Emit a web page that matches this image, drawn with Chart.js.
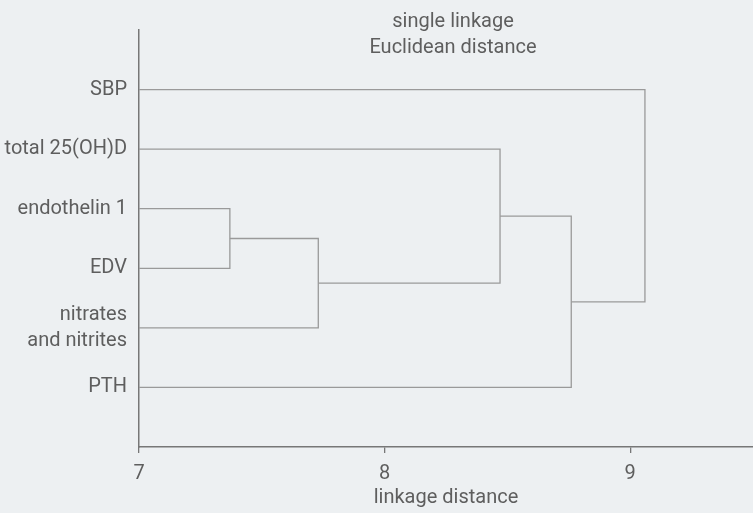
<!DOCTYPE html>
<html>
<head>
<meta charset="utf-8">
<script src="https://cdn.jsdelivr.net/npm/chart.js@4/dist/chart.umd.min.js"></script>
<style>
  html, body { margin: 0; padding: 0; background: #edf0f2; }
  #wrap { width: 753px; height: 513px; }
</style>
</head>
<body>
<div id="wrap"><canvas id="chart" width="753" height="513"></canvas></div>
<script>
// leaves of the dendrogram, top to bottom
const leafLabels = ['SBP', 'total 25(OH)D', 'endothelin 1', 'EDV', ['nitrates', 'and nitrites'], 'PTH'];

// merges: node ids 0..5 are leaves, merge k makes node 6+k
const mergeLeft = [2, 6, 1, 8, 0];
const mergeRight = [3, 4, 7, 5, 9];
const mergeDistance = [7.37, 7.73, 8.47, 8.76, 9.06];

const xTickValues = [7, 8, 9];
const titleLines = ['single linkage', 'Euclidean distance'];
const xAxisTitle = 'linkage distance';

const FONT = "Roboto, 'Liberation Sans', sans-serif";
const FONT_SIZE = 20;
const TEXT_COLOR = '#5e5e5e';
const LINE_COLOR = '#9a9a9a';
const AXIS_COLOR = '#777777';
const X_MIN = 7;

// node height (distance) and row position
const nodeX = [];
const nodeY = [];
leafLabels.forEach((l, i) => { nodeX.push(X_MIN); nodeY.push(i + 1); });

const datasets = [];
for (let k = 0; k < mergeDistance.length; k++) {
    const a = mergeLeft[k], b = mergeRight[k], d = mergeDistance[k];
    datasets.push({
        data: [
            {x: nodeX[a], y: nodeY[a]},
            {x: d, y: nodeY[a]},
            {x: d, y: nodeY[b]},
            {x: nodeX[b], y: nodeY[b]}
        ],
        borderColor: LINE_COLOR,
        borderWidth: 1.3,
        pointRadius: 0,
        showLine: true,
        fill: false,
        tension: 0
    });
    nodeX.push(d);
    nodeY.push((nodeY[a] + nodeY[b]) / 2);
}

const titlePlugin = {
    id: 'cornerTitle',
    afterDraw(chart) {
        const ctx = chart.ctx;
        ctx.save();
        ctx.font = FONT_SIZE + 'px ' + FONT;
        ctx.fillStyle = TEXT_COLOR;
        ctx.textAlign = 'center';
        ctx.textBaseline = 'middle';
        ctx.fillText(titleLines[0], 453, 22);
        ctx.fillText(titleLines[1], 453, 48);
        ctx.restore();
    }
};

new Chart(document.getElementById('chart'), {
    type: 'scatter',
    data: { datasets: datasets },
    plugins: [titlePlugin],
    options: {
        responsive: false,
        animation: false,
        layout: { padding: { top: 30, right: 0, left: 0, bottom: 0 } },
        plugins: { legend: { display: false }, tooltip: { enabled: false } },
        scales: {
            x: {
                type: 'linear',
                min: 7,
                max: 9.5,
                afterBuildTicks: (scale) => { scale.ticks = xTickValues.map(v => ({value: v})); },
                afterFit: (scale) => { scale.height = 66; },
                ticks: { color: TEXT_COLOR, font: { family: FONT, size: FONT_SIZE }, padding: 9 },
                grid: { drawOnChartArea: false, drawTicks: true, tickLength: 6, color: AXIS_COLOR, lineWidth: 1.3 },
                border: { display: true, color: AXIS_COLOR, width: 1.5 },
                title: { display: true, text: xAxisTitle, color: TEXT_COLOR, font: { family: FONT, size: FONT_SIZE }, padding: { top: 0, bottom: 3 } }
            },
            y: {
                type: 'linear',
                reverse: true,
                min: 0,
                max: 7,
                afterBuildTicks: (scale) => { scale.ticks = leafLabels.map((l, i) => ({value: i + 1})); },
                afterFit: (scale) => { scale.width = 139; },
                ticks: {
                    color: TEXT_COLOR,
                    font: { family: FONT, size: FONT_SIZE, lineHeight: 1.3 },
                    padding: 12,
                    callback: (v) => leafLabels[v - 1] || ''
                },
                grid: { display: false, drawTicks: false },
                border: { display: true, color: AXIS_COLOR, width: 1.5 }
            }
        }
    }
});
</script>
</body>
</html>
